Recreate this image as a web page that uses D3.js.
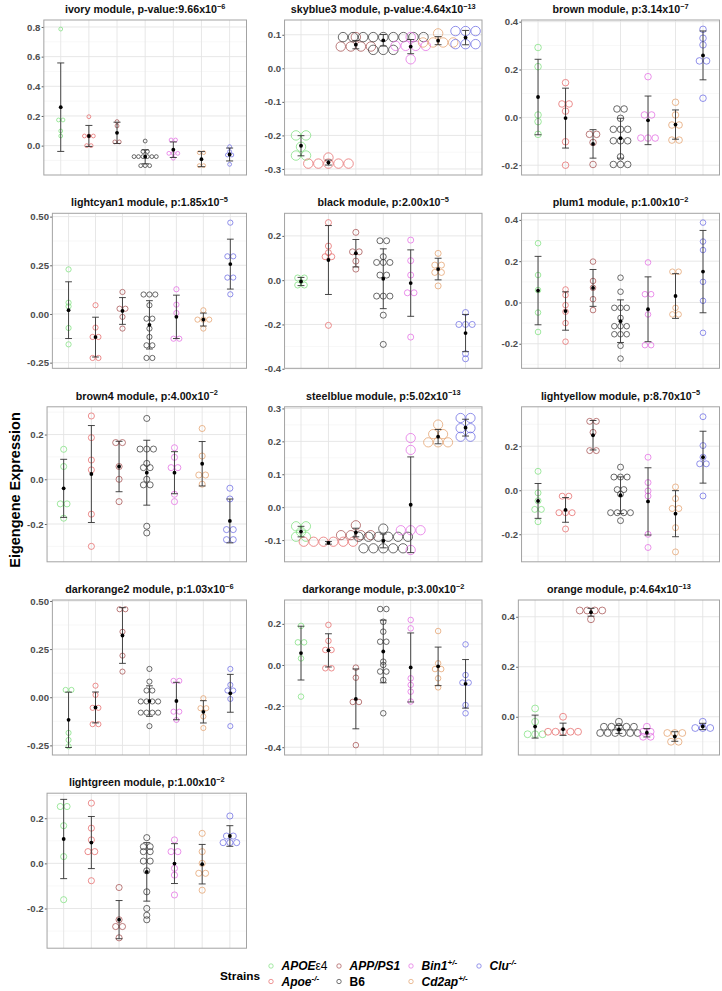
<!DOCTYPE html>
<html><head><meta charset="utf-8">
<script src="https://cdn.jsdelivr.net/npm/d3@7"></script>
<style>body{margin:0;background:#fff;} text{font-family:"Liberation Sans",Arial,Helvetica,sans-serif;}</style>
</head><body><svg id="c" width="722" height="991"></svg>
<script>
// ---------------- DATA ----------------
const strains = ["APOEε4","Apoe-/-","APP/PS1","B6","Bin1+/-","Cd2ap+/-","Clu-/-"];
const strainColors = ["#7fe07f","#e66a6a","#a65252","#3a3a3a","#e36ce3","#e3a06c","#6c6ce3"];
const modules = ["ivory","skyblue3","brown","lightcyan1","black","plum1","brown4","steelblue","lightyellow","darkorange2","darkorange","orange","lightgreen"];
const pPrefix = ["p-value:","p-value:","p:","p:","p:","p:","p:","p:","p:","p:","p:","p:","p:"];
const pMantissa = ["9.66","4.64","3.14","1.85","2.00","1.00","4.00","5.02","8.70","1.03","3.00","4.64","1.00"];
const pExponent = ["6","13","7","5","5","2","2","13","5","6","2","13","2"];
const yDomains = [[-0.198,0.847],[-0.318,0.144],[-0.241,0.407],[-0.279,0.517],[-0.398,0.302],[-0.319,0.432],
  [-0.369,0.324],[-0.166,0.305],[-0.325,0.379],[-0.3,0.505],[-0.438,0.316],[-0.153,0.467],[-0.376,0.311]];
const yTicks = [[0,0.2,0.4,0.6,0.8],[-0.3,-0.2,-0.1,0,0.1],[-0.2,0,0.2,0.4],[-0.25,0,0.25,0.5],[-0.4,-0.2,0,0.2],[-0.2,0,0.2,0.4],
  [-0.2,0,0.2],[-0.1,0,0.1,0.2,0.3],[-0.2,0,0.2],[-0.25,0,0.25,0.5],[-0.4,-0.2,0,0.2],[0,0.2,0.4],[-0.2,0,0.2]];
const yTickFormats = [".1f",".1f",".1f",".2f",".1f",".1f",".1f",".1f",".1f",".2f",".1f",".1f",".1f"];

const ivory = [
 [0.786,0.173,0.173,0.099,0.065],
 [0.195,0.065,0.065,0.065,0.0,0.0],
 [0.162,0.133,0.025,0.025],
 [0.031,-0.04,-0.04,-0.074,-0.074,-0.074,-0.074,-0.074,-0.074,-0.135,-0.135,-0.135],
 [0.038,0.038,-0.052,-0.052,-0.052,-0.085],
 [-0.047,-0.047,-0.135,-0.135],
 [-0.007,-0.04,-0.063,-0.063,-0.126]];
const skyblue3 = [
 [-0.2,-0.2,-0.234,-0.26,-0.26],
 [-0.266,-0.284,-0.284,-0.284,-0.284,-0.284],
 [0.093,0.065,0.065,0.065,0.065],
 [0.093,0.093,0.093,0.093,0.093,0.093,0.093,0.093,0.093,0.055,0.055,0.055],
 [0.093,0.067,0.067,0.067,0.067,0.027],
 [0.104,0.077,0.077,0.077,0.077],
 [0.111,0.111,0.111,0.072,0.072,0.072]];
const brown = [
 [0.292,0.212,0.01,-0.018,-0.071],
 [0.145,0.056,0.056,0.026,-0.102,-0.2],
 [-0.071,-0.071,-0.105,-0.197],
 [0.035,0.035,-0.004,-0.05,-0.05,-0.05,-0.098,-0.098,-0.098,-0.165,-0.197,-0.197,-0.197],
 [0.17,0.01,0.01,-0.081,-0.092,-0.092],
 [0.063,0.01,-0.032,-0.032,-0.095,-0.095],
 [0.368,0.331,0.303,0.236,0.236,0.08]];
const lightcyan1 = [
 [0.229,0.058,0.039,-0.072,-0.156],
 [0.045,-0.07,-0.118,-0.118,-0.226,-0.226],
 [0.113,0.027,0.027,-0.015,-0.075],
 [0.1,0.1,0.1,0.045,-0.024,-0.024,-0.075,-0.118,-0.161,-0.161,-0.226,-0.226],
 [0.127,0.048,0.005,-0.127,-0.127],
 [0.019,-0.029,-0.029,-0.029,-0.075],
 [0.469,0.296,0.296,0.187,0.187,0.101]];
const black = [
 [0.01,0.01,-0.022,-0.022],
 [0.26,0.154,0.124,0.106,0.106,-0.204],
 [0.216,0.128,0.128,0.086,0.05],
 [0.178,0.178,0.106,0.08,0.08,0.08,0.023,0.023,-0.072,-0.072,-0.072,-0.158,-0.29],
 [0.181,0.088,0.023,-0.057,-0.057,-0.257],
 [0.121,0.068,0.068,0.035,0.035,-0.026],
 [-0.146,-0.2,-0.2,-0.2,-0.332,-0.355]];
const plum1 = [
 [0.287,0.133,0.06,-0.049,-0.143],
 [0.063,0.036,-0.013,-0.045,-0.1,-0.19],
 [0.198,0.104,0.071,0.016,-0.037],
 [0.12,0.052,-0.026,-0.026,-0.026,-0.075,-0.115,-0.115,-0.115,-0.154,-0.154,-0.154,-0.21,-0.272],
 [0.194,0.04,0.04,-0.058,-0.207,-0.207],
 [0.149,0.149,-0.026,-0.058,-0.058],
 [0.387,0.295,0.254,0.1,0.008,-0.147]];
const brown4 = [
 [0.134,0.057,-0.11,-0.11,-0.174],
 [0.283,0.186,0.086,0.042,-0.156,-0.3],
 [0.164,0.164,0.057,0.0,-0.1],
 [0.272,0.135,0.135,0.135,0.071,0.052,0.052,0.0,-0.025,-0.025,-0.21,-0.24],
 [0.141,0.098,0.052,0.052,-0.067,-0.1],
 [0.227,0.104,0.019,0.019,-0.022],
 [-0.04,-0.088,-0.225,-0.225,-0.27,-0.27]];
const steelblue = [
 [-0.058,-0.058,-0.075,-0.09,-0.09],
 [-0.1,-0.11,-0.11,-0.11,-0.11,-0.11],
 [-0.055,-0.08,-0.08,-0.08,-0.09],
 [-0.065,-0.09,-0.09,-0.09,-0.09,-0.09,-0.09,-0.125,-0.125,-0.125,-0.125,-0.125],
 [0.21,0.174,-0.07,-0.07,-0.07,-0.13],
 [0.251,0.222,0.222,0.197,0.197,0.197],
 [0.271,0.271,0.24,0.24,0.214,0.214]];
const lightyellow = [
 [0.086,-0.012,-0.048,-0.087,-0.087,-0.143],
 [-0.027,-0.027,-0.102,-0.102,-0.102,-0.176],
 [0.313,0.313,0.263,0.18,0.18],
 [0.105,0.06,0.06,0.06,0.003,0.003,-0.018,-0.102,-0.102,-0.102,-0.102,-0.138],
 [0.15,0.035,-0.003,-0.026,-0.2,-0.26],
 [0.015,-0.038,-0.083,-0.083,-0.17,-0.28],
 [0.334,0.203,0.15,0.12,0.12,-0.026]];
const darkorange2 = [
 [0.038,0.038,-0.185,-0.222,-0.255],
 [0.06,0.012,-0.055,-0.055,-0.14,-0.14],
 [0.457,0.457,0.34,0.216,0.133],
 [0.147,0.081,0.035,0.035,-0.022,-0.022,-0.022,-0.022,-0.08,-0.08,-0.08,-0.08,-0.15],
 [0.085,0.085,-0.075,-0.075,-0.118],
 [-0.005,-0.057,-0.057,-0.1,-0.16],
 [0.147,0.064,0.035,0.035,-0.009,-0.15]];
const darkorange = [
 [0.19,0.11,0.11,0.032,-0.154],
 [0.195,0.117,0.073,0.073,-0.016,-0.016],
 [-0.013,-0.062,-0.18,-0.18,-0.39],
 [0.272,0.272,0.21,0.162,0.113,0.113,0.016,0.0,-0.032,-0.032,-0.073,-0.235],
 [0.219,0.178,-0.065,-0.097,-0.13,-0.178],
 [0.165,0.008,-0.02,-0.02,-0.065,-0.109],
 [0.1,-0.049,-0.086,-0.086,-0.195,-0.235]];
const orange = [
 [0.033,-0.02,-0.07,-0.07,-0.07],
 [0.0,-0.06,-0.06,-0.06,-0.06,-0.06],
 [0.425,0.425,0.425,0.425,0.39],
 [-0.02,-0.04,-0.04,-0.04,-0.04,-0.04,-0.065,-0.065,-0.065,-0.065,-0.065,-0.065],
 [-0.04,-0.06,-0.06,-0.08,-0.08],
 [-0.065,-0.065,-0.065,-0.1,-0.1],
 [-0.02,-0.045,-0.045,-0.045]];
const lightgreen = [
 [0.252,0.252,0.167,0.03,-0.161],
 [0.267,0.156,0.104,0.052,0.052,-0.077],
 [-0.107,-0.25,-0.28,-0.28,-0.33],
 [0.114,0.074,0.074,0.052,0.052,0.01,0.01,-0.033,-0.126,-0.2,-0.23,-0.25],
 [0.104,0.052,0.052,-0.022,-0.052,-0.14],
 [0.133,0.052,0.0,-0.044,-0.044,-0.119],
 [0.21,0.121,0.121,0.092,0.092,0.092]];
const panelValues = [ivory,skyblue3,brown,lightcyan1,black,plum1,brown4,steelblue,lightyellow,darkorange2,darkorange,orange,lightgreen];

// legend labels: [main, italic?, suffix normal, superscript]
const legendMain = ["APOE","Apoe","APP/PS1","B6","Bin1","Cd2ap","Clu"];
const legendSuffix = ["ε4","","","","","",""];
const legendSup = ["","-/-","","","+/-","+/-","-/-"];
const legendItalic = [true,true,true,false,true,true,true];

// ---------------- LAYOUT ----------------
const svg = d3.select("#c");
svg.append("rect").attr("width",722).attr("height",991).attr("fill","#fff");
const rowTops=[20,213.3,406.8,600,793.2], plotH=155;
const colLabelLeft=[27.5,265,502], colRight=[246.5,482,719.5];
const binwidth = 0.03, binTol = 0.012;

const measure = svg.append("text").attr("font-size",9.6).attr("font-weight","bold").style("visibility","hidden");
function textW(s){ measure.text(s); return measure.node().getComputedTextLength(); }

panelValues.forEach((data,i)=>{
  const row=Math.floor(i/3), col=i%3;
  const fmt = v => d3.format(yTickFormats[i])(v).replace("\u2212","-");
  const ticks = yTicks[i];
  const maxW = d3.max(ticks.map(fmt), textW);
  const left = colLabelLeft[col] + maxW + 3, right = colRight[col];
  const top = rowTops[row], bottom = top + plotH;
  const y = d3.scaleLinear().domain(yDomains[i]).range([bottom, top]);
  const x = d3.scalePoint().domain(strains).range([left,right]).padding(0.6);
  const g = svg.append("g");

  // minor grid
  const step = ticks[1]-ticks[0];
  const minors = [];
  for (let v = ticks[0]-step/2; v <= ticks[ticks.length-1]+step/2+1e-9; v += step) {
    if (v >= yDomains[i][0] && v <= yDomains[i][1]) minors.push(v);
  }
  g.selectAll(".mn").data(minors).join("line")
    .attr("x1",left).attr("x2",right).attr("y1",d=>y(d)).attr("y2",d=>y(d))
    .attr("stroke","#f2f2f2").attr("stroke-width",0.6);
  g.selectAll(".mj").data(ticks).join("line")
    .attr("x1",left).attr("x2",right).attr("y1",d=>y(d)).attr("y2",d=>y(d))
    .attr("stroke","#e4e4e4").attr("stroke-width",0.9);
  g.selectAll(".vx").data(strains).join("line")
    .attr("x1",d=>x(d)).attr("x2",d=>x(d)).attr("y1",top).attr("y2",bottom)
    .attr("stroke","#e4e4e4").attr("stroke-width",0.9);

  // axis
  const ax = g.append("g").attr("transform",`translate(${left},0)`)
    .call(d3.axisLeft(y).tickValues(ticks).tickFormat(fmt).tickSize(2.2).tickPadding(1.2));
  ax.select(".domain").remove();
  ax.selectAll(".tick line").attr("stroke","#333").attr("stroke-width",0.8);
  ax.selectAll(".tick text").attr("font-size",9.6).attr("font-weight","bold").attr("fill","#4d4d4d")
    .attr("font-family","'Liberation Sans',Arial,sans-serif");

  // dots (dot-density style stacking, centred)
  const dia = y(0) - y(binwidth);
  data.forEach((vals,k)=>{
    const s = vals.slice().sort((a,b)=>a-b);
    const bins = [];
    let cur = null;
    s.forEach(v=>{
      if (!cur || v > cur.start + binTol) { cur = {start:v, vals:[v]}; bins.push(cur); }
      else cur.vals.push(v);
    });
    const pts = [];
    bins.forEach(b=>{
      const c = (d3.min(b.vals)+d3.max(b.vals))/2, n=b.vals.length;
      b.vals.forEach((v,j)=>pts.push({cx:x(strains[k]) + (j-(n-1)/2)*dia, cy:y(c)}));
    });
    g.selectAll(null).data(pts).join("circle")
      .attr("cx",d=>d.cx).attr("cy",d=>d.cy).attr("r",dia/2 - 0.3)
      .attr("fill","none").attr("stroke",strainColors[k]).attr("stroke-width",0.75);
  });
  // error bars
  const stepX = x.step(), capW = stepX*0.125;
  data.forEach((vals,k)=>{
    const m = d3.mean(vals), sd = d3.deviation(vals), cx = x(strains[k]);
    const eg = g.append("g").attr("stroke","#333").attr("stroke-width",0.9);
    eg.append("line").attr("x1",cx).attr("x2",cx).attr("y1",y(m-sd)).attr("y2",y(m+sd));
    eg.append("line").attr("x1",cx-capW).attr("x2",cx+capW).attr("y1",y(m-sd)).attr("y2",y(m-sd));
    eg.append("line").attr("x1",cx-capW).attr("x2",cx+capW).attr("y1",y(m+sd)).attr("y2",y(m+sd));
    g.append("circle").attr("cx",cx).attr("cy",y(m)).attr("r",1.9).attr("fill","#000");
  });
  // border
  g.append("rect").attr("x",left).attr("y",top).attr("width",right-left).attr("height",plotH)
    .attr("fill","none").attr("stroke","#a3a3a3").attr("stroke-width",1);
  // title
  const t = g.append("text").attr("x",(left+right)/2).attr("y",top-7).attr("text-anchor","middle")
    .attr("font-size",10.7).attr("font-weight","bold").attr("fill","#111");
  t.append("tspan").text(`${modules[i]} module, ${pPrefix[i]}${pMantissa[i]}x10`);
  t.append("tspan").attr("dy",-4.5).attr("font-size",7.4).text("\u2212"+pExponent[i]);
});

// y axis title
svg.append("text").attr("transform","translate(20,490) rotate(-90)").attr("text-anchor","middle")
  .attr("font-size",14.5).attr("font-weight","bold").attr("fill","#000").text("Eigengene Expression");

// legend
svg.append("text").attr("x",220).attr("y",979.5).attr("font-size",11.8).attr("font-weight","bold").text("Strains");
const legX = [271,271,339,339,411,411,479];
const legY = [966,981.5,966,981.5,966,981.5,966];
strains.forEach((s,k)=>{
  svg.append("circle").attr("cx",legX[k]).attr("cy",legY[k]).attr("r",2.2)
    .attr("fill","none").attr("stroke",strainColors[k]).attr("stroke-width",0.7);
  const t = svg.append("text").attr("x",legX[k]+10.5).attr("y",legY[k]+4.3)
    .attr("font-size",12).attr("font-weight","bold").attr("fill","#000");
  t.append("tspan").attr("font-style",legendItalic[k]?"italic":"normal").text(legendMain[k]);
  if (legendSuffix[k]) t.append("tspan").attr("font-weight","normal").text(legendSuffix[k]);
  if (legendSup[k]) t.append("tspan").attr("dy",-5).attr("font-size",8).attr("font-style","italic").text(legendSup[k]);
});
</script></body></html>
